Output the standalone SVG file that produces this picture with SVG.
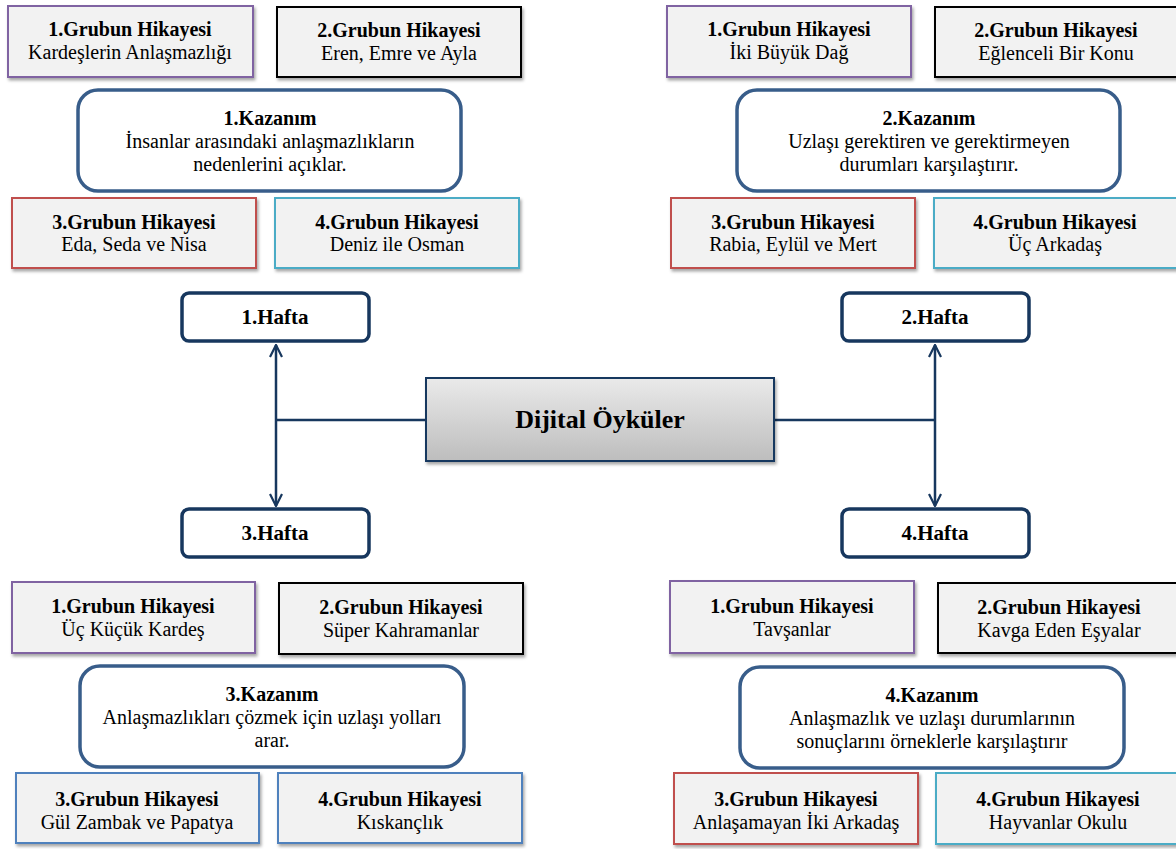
<svg xmlns="http://www.w3.org/2000/svg" width="1176" height="849" viewBox="0 0 1176 849">
<defs>
<style>
text{font-family:"Liberation Serif","DejaVu Serif",serif;fill:#000;text-anchor:middle}
.t{font-size:20px;font-weight:bold}
.s{font-size:20px}
.h{font-size:21px;font-weight:bold}
.box{fill:#F2F2F2;stroke-width:2;filter:url(#sh)}
.pu{stroke:#8064A2}.bk{stroke:#000}.rd{stroke:#C0504D}.cy{stroke:#4BACC6}.bl{stroke:#4F81BD}
.kz{fill:#fff;stroke:#385D8A;stroke-width:3.5}
.hf{fill:#fff;stroke:#17375E;stroke-width:3.5}
.ln{stroke:#17375E;stroke-width:2.5;fill:none}
</style>
<filter id="sh" x="-10%" y="-10%" width="130%" height="140%"><feDropShadow dx="1.5" dy="2.5" stdDeviation="1.5" flood-color="#000" flood-opacity="0.35"/></filter>
<linearGradient id="g" x1="0" y1="0" x2="0" y2="1"><stop offset="0" stop-color="#EAEAEA"/><stop offset="1" stop-color="#BDBDBD"/></linearGradient>
<marker id="ar" viewBox="0 0 14 14" refX="13" refY="7" markerWidth="14" markerHeight="14" markerUnits="userSpaceOnUse" orient="auto-start-reverse"><path d="M1,1 L13,7 L1,13" fill="none" stroke="#17375E" stroke-width="2.2"/></marker>
</defs>

<g id="connectors">
<path class="ln" d="M276,420 H426"/>
<path class="ln" d="M276,345 V506" marker-start="url(#ar)" marker-end="url(#ar)"/>
<path class="ln" d="M774,420 H935"/>
<path class="ln" d="M935,345 V506" marker-start="url(#ar)" marker-end="url(#ar)"/>
</g>

<g id="center"><rect x="426" y="378" width="348" height="83" fill="url(#g)" stroke="#17375E" stroke-width="2" filter="url(#sh)"/><text x="600" y="428" style="font-size:26px;font-weight:bold">Dijital Öyküler</text></g>

<g id="hafta1"><rect class="hf" x="182" y="293" width="187" height="48" rx="7"/><text class="h" x="275" y="324">1.Hafta</text></g>
<g id="hafta2"><rect class="hf" x="842" y="293" width="187" height="48" rx="7"/><text class="h" x="935" y="324">2.Hafta</text></g>
<g id="hafta3"><rect class="hf" x="182" y="509" width="187" height="48" rx="7"/><text class="h" x="275" y="540">3.Hafta</text></g>
<g id="hafta4"><rect class="hf" x="842" y="509" width="187" height="48" rx="7"/><text class="h" x="935" y="540">4.Hafta</text></g>

<!-- Top-left -->
<g id="tl1"><rect class="box pu" x="8" y="6" width="245" height="71"/><text class="t" x="130" y="36">1.Grubun Hikayesi</text><text class="s" x="130" y="59">Kardeşlerin Anlaşmazlığı</text></g>
<g id="tl2"><rect class="box bk" x="277" y="7" width="244" height="70"/><text class="t" x="399" y="37">2.Grubun Hikayesi</text><text class="s" x="399" y="60">Eren, Emre ve Ayla</text></g>
<g id="kaz1"><rect class="kz" x="78" y="90" width="383" height="101" rx="20"/><text class="t" x="270" y="125">1.Kazanım</text><text class="s" x="270" y="148">İnsanlar arasındaki anlaşmazlıkların</text><text class="s" x="270" y="171">nedenlerini açıklar.</text></g>
<g id="tl3"><rect class="box rd" x="12" y="198" width="244" height="70"/><text class="t" x="134" y="229">3.Grubun Hikayesi</text><text class="s" x="134" y="251">Eda, Seda ve Nisa</text></g>
<g id="tl4"><rect class="box cy" x="275" y="198" width="244" height="70"/><text class="t" x="397" y="229">4.Grubun Hikayesi</text><text class="s" x="397" y="251">Deniz ile Osman</text></g>

<!-- Top-right -->
<g id="tr1"><rect class="box pu" x="667" y="6" width="244" height="71"/><text class="t" x="789" y="36">1.Grubun Hikayesi</text><text class="s" x="789" y="59">İki Büyük Dağ</text></g>
<g id="tr2"><rect class="box bk" x="935" y="7" width="245" height="70"/><text class="t" x="1056" y="37">2.Grubun Hikayesi</text><text class="s" x="1056" y="60">Eğlenceli Bir Konu</text></g>
<g id="kaz2"><rect class="kz" x="737" y="90" width="383" height="101" rx="20"/><text class="t" x="929" y="125">2.Kazanım</text><text class="s" x="929" y="148">Uzlaşı gerektiren ve gerektirmeyen</text><text class="s" x="929" y="171">durumları karşılaştırır.</text></g>
<g id="tr3"><rect class="box rd" x="671" y="198" width="244" height="70"/><text class="t" x="793" y="229">3.Grubun Hikayesi</text><text class="s" x="793" y="251">Rabia, Eylül ve Mert</text></g>
<g id="tr4"><rect class="box cy" x="934" y="198" width="246" height="70"/><text class="t" x="1055" y="229">4.Grubun Hikayesi</text><text class="s" x="1055" y="251">Üç Arkadaş</text></g>

<!-- Bottom-left -->
<g id="bl1"><rect class="box pu" x="12" y="582" width="243" height="71"/><text class="t" x="133" y="613">1.Grubun Hikayesi</text><text class="s" x="133" y="636">Üç Küçük Kardeş</text></g>
<g id="bl2"><rect class="box bk" x="279" y="583" width="244" height="71"/><text class="t" x="401" y="614">2.Grubun Hikayesi</text><text class="s" x="401" y="637">Süper Kahramanlar</text></g>
<g id="kaz3"><rect class="kz" x="80" y="666" width="384" height="101" rx="20"/><text class="t" x="272" y="701">3.Kazanım</text><text class="s" x="272" y="724">Anlaşmazlıkları çözmek için uzlaşı yolları</text><text class="s" x="272" y="747">arar.</text></g>
<g id="bl3"><rect class="box bl" x="16" y="773" width="243" height="70"/><text class="t" x="137" y="806">3.Grubun Hikayesi</text><text class="s" x="137" y="829">Gül Zambak ve Papatya</text></g>
<g id="bl4"><rect class="box bl" x="278" y="773" width="244" height="70"/><text class="t" x="400" y="806">4.Grubun Hikayesi</text><text class="s" x="400" y="829">Kıskançlık</text></g>

<!-- Bottom-right -->
<g id="br1"><rect class="box pu" x="670" y="581" width="244" height="72"/><text class="t" x="792" y="613">1.Grubun Hikayesi</text><text class="s" x="792" y="636">Tavşanlar</text></g>
<g id="br2"><rect class="box bk" x="938" y="583" width="242" height="70"/><text class="t" x="1059" y="614">2.Grubun Hikayesi</text><text class="s" x="1059" y="637">Kavga Eden Eşyalar</text></g>
<g id="kaz4"><rect class="kz" x="740" y="667" width="384" height="101" rx="20"/><text class="t" x="932" y="702">4.Kazanım</text><text class="s" x="932" y="725">Anlaşmazlık ve uzlaşı durumlarının</text><text class="s" x="932" y="748">sonuçlarını örneklerle karşılaştırır</text></g>
<g id="br3"><rect class="box rd" x="674" y="773" width="244" height="71"/><text class="t" x="796" y="806">3.Grubun Hikayesi</text><text class="s" x="796" y="829">Anlaşamayan İki Arkadaş</text></g>
<g id="br4"><rect class="box cy" x="936" y="773" width="244" height="71"/><text class="t" x="1058" y="806">4.Grubun Hikayesi</text><text class="s" x="1058" y="829">Hayvanlar Okulu</text></g>
</svg>
